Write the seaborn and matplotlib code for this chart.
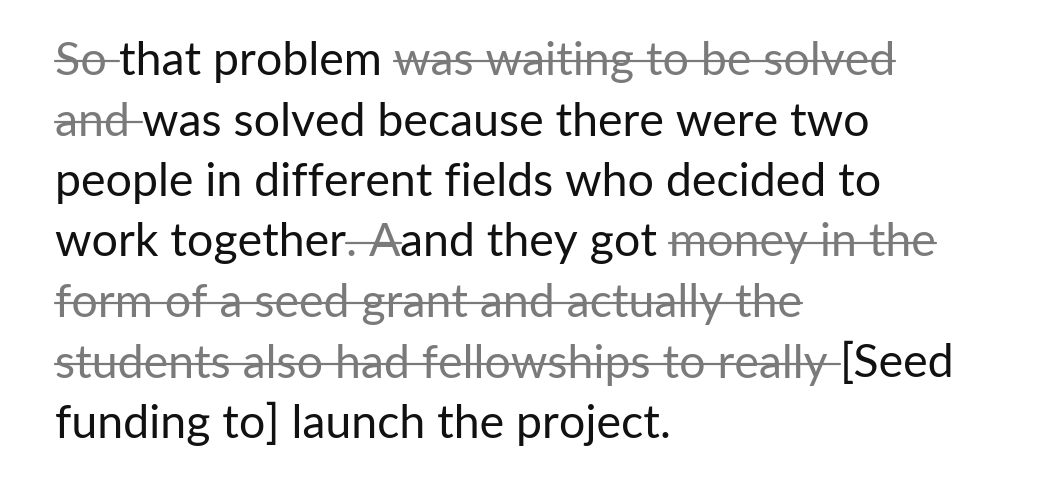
import matplotlib
matplotlib.use("Agg")
import matplotlib.pyplot as plt
import seaborn as sns

sns.set_style("white")
plt.rcParams['font.family'] = ['Lato', 'DejaVu Sans']

# each line: list of (text, struck)
lines = [
    [("So ", True), ("that problem ", False), ("was waiting to be solved", True)],
    [("and ", True), ("was solved because there were two", False)],
    [("people in different fields who decided to", False)],
    [("work together", False), (". A", True), ("and they got ", False), ("money in the", True)],
    [("form of a seed grant and actually the", True)],
    [("students also had fellowships to really ", True), ("[Seed", False)],
    [("funding to] launch the project.", False)],
]
black = "#111111"
gray = "#7a7a7a"

W, H = 1039, 488
fig = plt.figure(figsize=(W / 100, H / 100), dpi=100)
ax = fig.add_axes([0, 0, 1, 1])
ax.set_xlim(0, W)
ax.set_ylim(H, 0)
ax.axis("off")
fig.canvas.draw()
r = fig.canvas.get_renderer()

x0, y0, dy = 55, 75, 60.5
for i, segs in enumerate(lines):
    y = y0 + i * dy
    x = x0
    for txt, struck in segs:
        t = ax.text(x, y, txt, fontsize=33.5, color=gray if struck else black,
                    va="baseline", ha="left")
        bb = t.get_window_extent(r)
        w = bb.width
        if struck:
            ax.plot([x, x + w], [y - 14, y - 14], color=gray, lw=1.6)
        x += w

fig.savefig("out.png", dpi=100)
